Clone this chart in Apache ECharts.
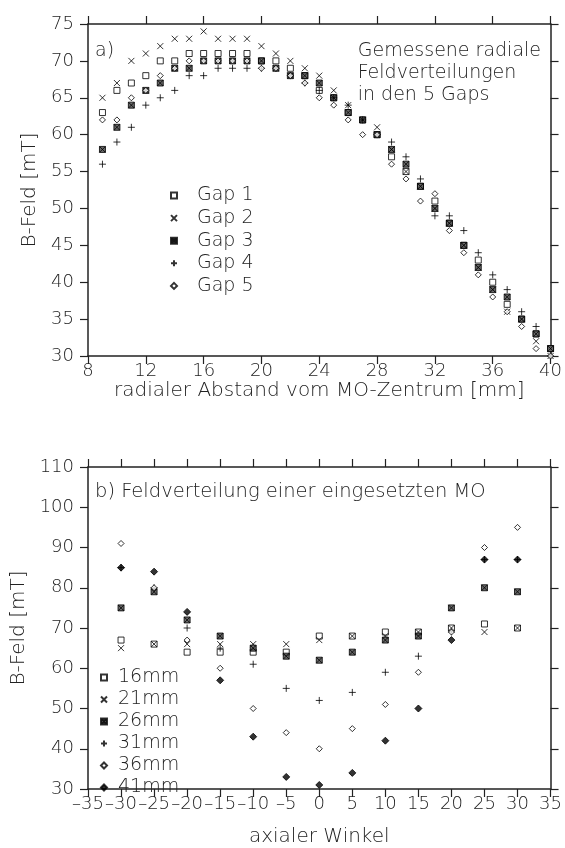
<!DOCTYPE html>
<html><head><meta charset="utf-8">
<script src="https://cdn.jsdelivr.net/npm/echarts@6/dist/echarts.min.js"></script>
<style>html,body{margin:0;padding:0;background:#fff}#c{width:565px;height:848px}</style>
</head><body><div id="c"></div>
<script>
// ---- Chart a): radial field distributions in the 5 gaps ----
var radialMM = [9,10,11,12,13,14,15,16,17,18,19,20,21,22,23,24,25,26,27,28,29,30,31,32,33,34,35,36,37,38,39,40];
var gap1 = [63,66,67,68,70,70,71,71,71,71,71,70,70,69,68,66,65,63,62,60,57,55,53,51,48,45,43,40,37,35,33,31];
var gap2 = [65,67,70,71,72,73,73,74,73,73,73,72,71,70,69,68,66,64,62,61,58,55,53,50,48,45,42,39,36,35,32,30];
var gap3 = [58,61,64,66,67,69,69,70,70,70,70,70,69,68,68,67,65,63,62,60,58,56,53,50,48,45,42,39,38,35,33,31];
var gap4 = [56,59,61,64,65,66,68,68,69,69,69,69,69,68,67,66,65,64,62,60,59,57,54,49,49,47,44,41,39,36,34,30];
var gap5 = [62,62,65,66,68,69,70,70,70,70,70,69,69,68,67,65,64,62,60,60,56,54,51,52,47,44,41,38,36,34,31,30];
var gapNames = ['Gap 1','Gap 2','Gap 3','Gap 4','Gap 5'];

// ---- Chart b): field distribution of an inserted MO ----
var axialAngle = [-30,-25,-20,-15,-10,-5,0,5,10,15,20,25,30];
var r16 = [67,66,64,64,64,64,68,68,69,69,70,71,70];
var r21 = [65,66,66,66,66,66,67,68,68,69,70,69,70];
var r26 = [75,79,72,68,65,63,62,64,67,68,75,80,79];
var r31 = [85,80,70,65,61,55,52,54,59,63,69,87,87];
var r36 = [91,80,67,60,50,44,40,45,51,59,69,90,95];
var r41 = [85,84,74,57,43,33,31,34,42,50,67,87,87];
var radiusNames = ['16mm','21mm','26mm','31mm','36mm','41mm'];

var FONT = 'DejaVu Sans';
var TXT = '#222';
var sym = {
  square: {symbol:'path://M0,0H10V10H0Z', size:6, style:{color:'#fff', borderColor:'#000', borderWidth:1}},
  cross: {symbol:'path://M0,0L10,10M10,0L0,10', size:6, style:{color:'transparent', borderColor:'#000', borderWidth:1}},
  xbox: {symbol:'path://M0,0H10V10H0ZM0,0L10,10M10,0L0,10', size:6, style:{color:'#444', borderColor:'#000', borderWidth:1}},
  plus: {symbol:'path://M5,0V10M0,5H10', size:7, style:{color:'transparent', borderColor:'#000', borderWidth:1}},
  diamond: {symbol:'path://M5,0L10,5L5,10L0,5Z', size:6, style:{color:'#fff', borderColor:'#000', borderWidth:1}},
  fdiamond: {symbol:'path://M5,0L10,5L5,10L0,5Z', size:7, style:{color:'#000', borderColor:'#000', borderWidth:1}}
};
function pairs(xs, ys){ return xs.map(function(x,i){ return [x, ys[i]]; }); }
function sc(name, xs, ys, s, ax){
  return {type:'scatter', name:name, xAxisIndex:ax, yAxisIndex:ax, data:pairs(xs,ys),
    symbol:s.symbol, symbolSize:s.size, itemStyle:s.style, silent:true,
    emphasis:{disabled:true}, z:3};
}
var lab = {fontFamily:FONT, fontSize:18, color:TXT, fontWeight:200};
var lab20 = {fontFamily:FONT, fontSize:20, color:TXT, fontWeight:200};
var lab19 = {fontFamily:FONT, fontSize:19, color:TXT, fontWeight:200};
function baseAxis(extra){
  var a = {type:'value', splitLine:{show:false},
    axisLine:{show:true, onZero:false, lineStyle:{color:'#222', width:1.5}},
    axisTick:{show:true, inside:false, length:8, lineStyle:{color:'#222', width:1.2}},
    axisLabel:Object.assign({}, lab), nameTextStyle:Object.assign({}, lab20)};
  return Object.assign(a, extra);
}
var fmtMinus = function(v){ return v < 0 ? '\u2013' + Math.abs(v) : String(v); };

var option = {
  animation:false,
  backgroundColor:'#fff',
  grid:[{left:88, top:24, width:465, height:332}, {left:88, top:467, width:467, height:333}],
  xAxis:[
    baseAxis({gridIndex:0, position:'bottom', min:8, max:40, interval:4, name:'radialer Abstand vom MO-Zentrum [mm]', nameLocation:'middle', nameGap:25, axisLabel:Object.assign({}, lab, {margin:6})}),
    baseAxis({gridIndex:0, position:'top', min:8, max:40, interval:4, axisLabel:{show:false}}),
    baseAxis({gridIndex:1, position:'bottom', min:-35, max:35, interval:5, name:'axialer Winkel', nameLocation:'middle', nameGap:38, axisLabel:Object.assign({}, lab, {margin:6, formatter:fmtMinus})}),
    baseAxis({gridIndex:1, position:'top', min:-35, max:35, interval:5, axisLabel:{show:false}})
  ],
  yAxis:[
    baseAxis({gridIndex:0, position:'left', min:30, max:75, interval:5, name:'B-Feld [mT]', nameLocation:'middle', nameGap:34, axisLabel:Object.assign({}, lab, {margin:14})}),
    baseAxis({gridIndex:0, position:'right', min:30, max:75, interval:5, axisLabel:{show:false}}),
    baseAxis({gridIndex:1, position:'left', min:30, max:110, interval:10, name:'B-Feld [mT]', nameLocation:'middle', nameGap:34, axisLabel:Object.assign({}, lab, {margin:14})}),
    baseAxis({gridIndex:1, position:'right', min:30, max:110, interval:10, axisLabel:{show:false}})
  ],
  legend:[
    {data:gapNames, orient:'vertical', left:165, top:181, itemWidth:6, itemHeight:6, itemGap:3.6,
     textStyle:Object.assign({}, lab19, {padding:[0,0,0,15]}), selectedMode:false},
    {data:radiusNames, orient:'vertical', left:95, top:663, itemWidth:6, itemHeight:6, itemGap:3,
     textStyle:Object.assign({}, lab19, {padding:[0,0,0,6]}), selectedMode:false}
  ],
  graphic:[
    {type:'text', left:95, top:42, style:{text:'a)', font:'200 19px "DejaVu Sans"', fill:TXT}},
    {type:'text', right:24, top:40, style:{text:'Gemessene radiale\nFeldverteilungen\nin den 5 Gaps', font:'200 19px "DejaVu Sans"', fill:TXT, align:'right', lineHeight:22}},
    {type:'text', left:95, top:482, style:{text:'b) Feldverteilung einer eingesetzten MO', font:'200 19.5px "DejaVu Sans"', fill:TXT}}
  ],
  series:[
    sc(gapNames[0], radialMM, gap1, sym.square, 0),
    sc(gapNames[1], radialMM, gap2, sym.cross, 0),
    sc(gapNames[2], radialMM, gap3, sym.xbox, 0),
    sc(gapNames[3], radialMM, gap4, sym.plus, 0),
    sc(gapNames[4], radialMM, gap5, sym.diamond, 0),
    sc(radiusNames[0], axialAngle, r16, sym.square, 2),
    sc(radiusNames[1], axialAngle, r21, sym.cross, 2),
    sc(radiusNames[2], axialAngle, r26, sym.xbox, 2),
    sc(radiusNames[3], axialAngle, r31, sym.plus, 2),
    sc(radiusNames[4], axialAngle, r36, sym.diamond, 2),
    sc(radiusNames[5], axialAngle, r41, sym.fdiamond, 2)
  ]
};
var chart = echarts.init(document.getElementById('c'), null, {renderer:'canvas'});
chart.setOption(option);
</script></body></html>
